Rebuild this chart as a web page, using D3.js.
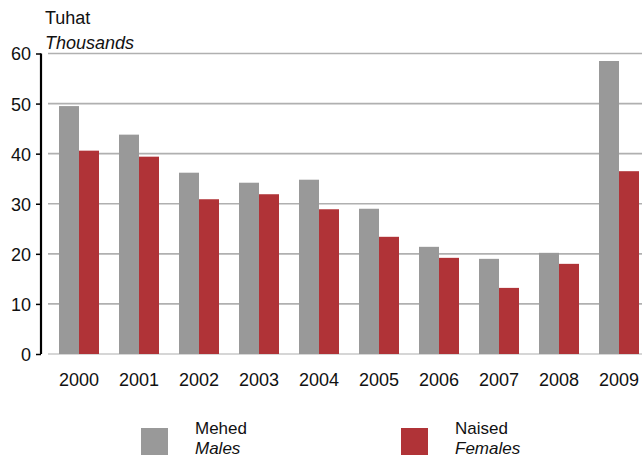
<!DOCTYPE html>
<html><head><meta charset="utf-8">
<script src="https://cdn.jsdelivr.net/npm/d3@7"></script>
<style>body{margin:0;background:#fff}svg{display:block;font-family:"Liberation Sans",Arial,sans-serif}</style>
</head><body>
<svg id="c" width="642" height="458"></svg>
<script>
const years = ["2000","2001","2002","2003","2004","2005","2006","2007","2008","2009"];
const males = [49.5, 43.8, 36.2, 34.2, 34.8, 29.0, 21.4, 19.0, 20.2, 58.5];
const females = [40.6, 39.4, 30.9, 31.9, 28.9, 23.4, 19.2, 13.2, 18.0, 36.5];
const yTicks = [0,10,20,30,40,50,60];
const seriesNames = [["Mehed","Males"],["Naised","Females"]];
const colors = ["#999999","#b03337"];
const FS = 18;
const LFS = 17;

const svg = d3.select("#c");
const x = d3.scaleBand().domain(years).range([49,649]).paddingInner(1/3).paddingOuter(1/6);
const x1 = d3.scaleBand().domain([0,1]).range([0, x.bandwidth()]);
const y = d3.scaleLinear().domain([0,60]).range([354,53.5]);

// gridlines
svg.append("g").selectAll("line").data(yTicks).join("line")
  .attr("x1",48).attr("x2",642).attr("y1",d=>y(d)).attr("y2",d=>y(d))
  .attr("stroke",d=>d===0?"#c8c8c8":"#b0b0b0").attr("stroke-width",1.6);

// bars
const series = [males, females];
series.forEach((vals,si)=>{
  svg.append("g").selectAll("rect").data(vals).join("rect")
    .attr("x",(d,i)=>x(years[i])+x1(si))
    .attr("width",x1.bandwidth())
    .attr("y",d=>y(d)).attr("height",d=>y(0)-y(d))
    .attr("fill",colors[si]);
});

// y axis
const ya = svg.append("g").attr("transform","translate(41,0)")
  .call(d3.axisLeft(y).tickValues(yTicks).tickSize(5).tickPadding(5).tickFormat(d3.format("d")));
ya.attr("font-size",null).attr("font-family",null);
ya.select(".domain").attr("stroke","#000").attr("stroke-width",2.2).attr("d","M0,"+y(60)+"V"+y(0));
ya.selectAll(".tick line").attr("stroke","#000").attr("stroke-width",1.5);
ya.selectAll("text").style("font-size",FS+"px").attr("fill","#111").attr("dy","0.36em");

// x labels
svg.append("g").selectAll("text").data(years).join("text")
  .attr("x",d=>x(d)+x.bandwidth()/2).attr("y",386)
  .attr("text-anchor","middle").style("font-size",FS+"px").attr("fill","#111").text(d=>d);

// unit title
svg.append("text").attr("x",45).attr("y",24).style("font-size",FS+"px").attr("fill","#111").text("Tuhat");
svg.append("text").attr("x",45).attr("y",49).style("font-size",FS+"px").attr("font-style","italic").attr("fill","#111").text("Thousands");

// legend
const lx = [141, 401];
seriesNames.forEach((n,i)=>{
  svg.append("rect").attr("x",lx[i]).attr("y",428).attr("width",27).attr("height",27).attr("fill",colors[i]);
  svg.append("text").attr("x",lx[i]+54).attr("y",434).style("font-size",LFS+"px").attr("fill","#111").text(n[0]);
  svg.append("text").attr("x",lx[i]+54).attr("y",454).style("font-size",LFS+"px").attr("font-style","italic").attr("fill","#111").text(n[1]);
});
</script>
</body></html>
